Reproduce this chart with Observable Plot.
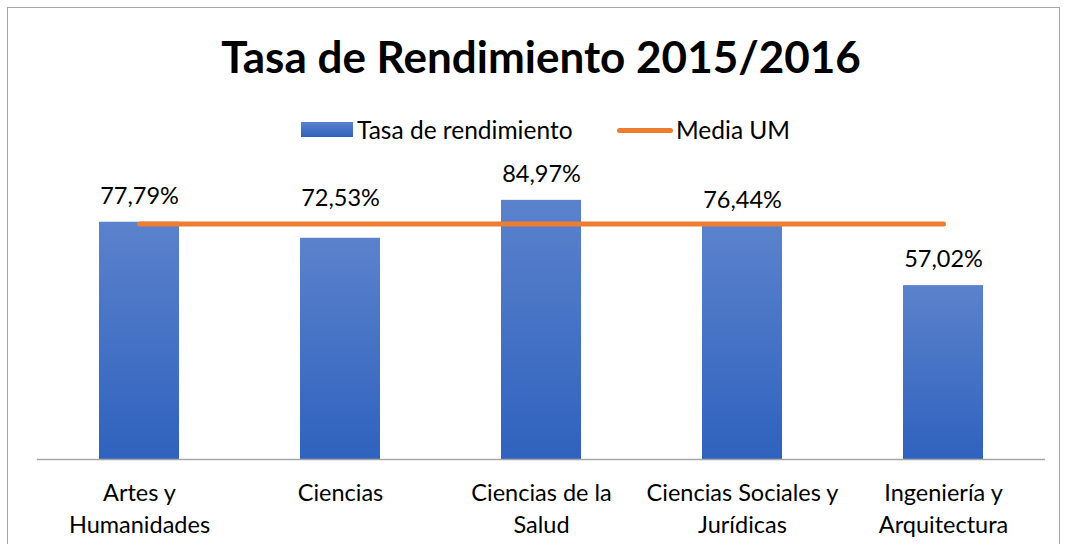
<!DOCTYPE html>
<html>
<head>
<meta charset="utf-8">
<script src="https://cdn.jsdelivr.net/npm/d3@7"></script>
<script src="https://cdn.jsdelivr.net/npm/@observablehq/plot@0.6"></script>
<style>
  html, body { margin: 0; padding: 0; background: #fff; }
  body { width: 1065px; height: 544px; overflow: hidden; position: relative; font-family: Lato, "Open Sans", sans-serif; }
  #frame { position: absolute; left: 7px; top: 7px; width: 1053px; height: 560px; border: 1.5px solid #a6a6a6; box-sizing: border-box; }
  #header { position: relative; height: 150px; }
  #title { position: absolute; left: 0; width: 1065px; top: 27px; text-align: center; padding-left: 17px; box-sizing: border-box; font-size: 44px; font-weight: bold; color: #000; line-height: 58px; }
  .leg { position: absolute; top: 114px; font-size: 24.5px; line-height: 32px; color: #000; }
  #sw1 { position: absolute; left: 301px; top: 122px; width: 52px; height: 15px; background: linear-gradient(#5b82cc, #2f62be); }
  #sw2 { position: absolute; left: 617px; top: 128px; width: 56px; height: 5px; border-radius: 3px; background: #ed7d31; }
  #chart { position: absolute; left: 0; top: 150px; }
</style>
</head>
<body>
<div id="frame"></div>
<div id="header">
  <div id="title"></div>
  <div id="sw1"></div><div class="leg" id="l1" style="left:357px"></div>
  <div id="sw2"></div><div class="leg" id="l2" style="left:676px"></div>
</div>
<div id="chart"></div>
<script>
const title = "Tasa de Rendimiento 2015/2016";
const categories = ["Artes y\nHumanidades", "Ciencias", "Ciencias de la\nSalud", "Ciencias Sociales y\nJurídicas", "Ingeniería y\nArquitectura"];
const tasa = [77.79, 72.53, 84.97, 76.44, 57.02];
const mediaUM = [77.2, 77.2, 77.2, 77.2, 77.2];
const seriesNames = ["Tasa de rendimiento", "Media UM"];

document.getElementById("title").textContent = title;
document.getElementById("l1").textContent = seriesNames[0];
document.getElementById("l2").textContent = seriesNames[1];

const data = categories.map((c, i) => ({cat: c, tasa: tasa[i], media: mediaUM[i]}));
const fmt = v => v.toFixed(2).replace(".", ",") + "%";

const plot = Plot.plot({
  width: 1065,
  height: 394,
  marginTop: 4,
  marginBottom: 85,
  marginLeft: 37,
  marginRight: 20,
  style: {fontFamily: "Lato, 'Open Sans', sans-serif", fontSize: "23.5px", color: "#000", background: "transparent"},
  x: {type: "band", domain: categories, paddingInner: 0.6, paddingOuter: 0.3},
  y: {domain: [0, 100], axis: null},
  marks: [
    Plot.barY(data, {x: "cat", y: "tasa", fill: "url(#barGrad)"}),
    Plot.ruleY([0], {stroke: "#a6a6a6", strokeWidth: 1.3}),
    Plot.lineY(data, {x: "cat", y: "media", stroke: "#ed7d31", strokeWidth: 5, strokeLinecap: "round"}),
    Plot.text(data.filter(d => d.cat !== "Ciencias"), {x: "cat", y: "tasa", text: d => fmt(d.tasa), dy: -26, fontSize: 23.5, fill: "#000"}),
    Plot.text(data.filter(d => d.cat === "Ciencias"), {x: "cat", y: "tasa", text: d => fmt(d.tasa), dy: -40, fontSize: 23.5, fill: "#000"}),
    Plot.axisX({tickSize: 0, tickPadding: 19, fontSize: 23.5, lineHeight: 1.36, label: null, fill: "#000"})
  ]
});

const svg = d3.select(plot);
const defs = svg.insert("defs", ":first-child");
const g = defs.append("linearGradient").attr("id", "barGrad").attr("x1", 0).attr("y1", 0).attr("x2", 0).attr("y2", 1);
g.append("stop").attr("offset", "0%").attr("stop-color", "#5b82cc");
g.append("stop").attr("offset", "100%").attr("stop-color", "#2f62be");

document.getElementById("chart").appendChild(plot);
</script>
</body>
</html>
